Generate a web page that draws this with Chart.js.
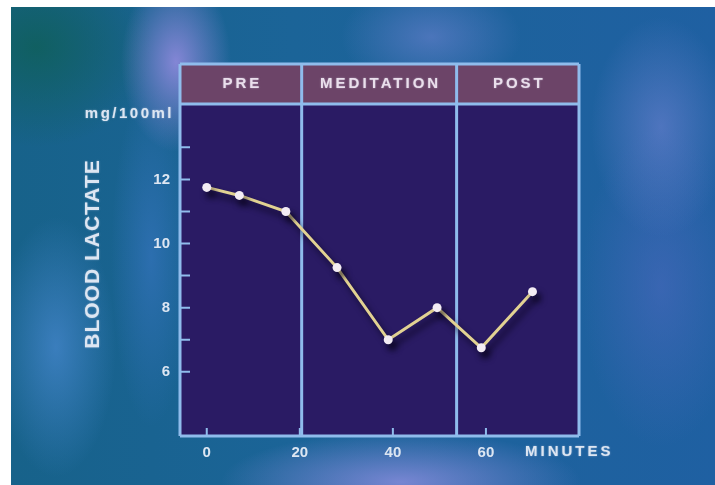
<!DOCTYPE html>
<html>
<head>
<meta charset="utf-8">
<script src="https://cdn.jsdelivr.net/npm/chart.js@4/dist/chart.umd.min.js"></script>
<style>
  html, body { margin: 0; padding: 0; background: #fff; }
  #photo {
    position: absolute; left: 11px; top: 7px; width: 704px; height: 478px;
    background:
      radial-gradient(ellipse 55px 90px at 165px 55px, rgba(150,140,225,0.85), rgba(150,140,225,0) 100%),
      radial-gradient(ellipse 90px 55px at 420px 30px, rgba(95,125,200,0.7), rgba(95,125,200,0) 100%),
      radial-gradient(ellipse 70px 110px at 650px 120px, rgba(110,130,210,0.6), rgba(110,130,210,0) 100%),
      radial-gradient(ellipse 80px 160px at 650px 280px, rgba(75,105,190,0.6), rgba(75,105,190,0) 100%),
      radial-gradient(ellipse 180px 50px at 390px 475px, rgba(135,140,220,0.85), rgba(135,140,220,0) 100%),
      radial-gradient(ellipse 60px 130px at 45px 340px, rgba(70,135,205,0.75), rgba(70,135,205,0) 100%),
      radial-gradient(ellipse 40px 170px at 140px 250px, rgba(60,120,200,0.55), rgba(60,120,200,0) 100%),
      radial-gradient(ellipse 120px 100px at 25px 40px, rgba(15,95,90,0.85), rgba(15,95,90,0) 100%),
      linear-gradient(90deg, #17628a 0%, #1b6498 40%, #1f60a2 100%);
  }
  #c { position: absolute; left: 0; top: 0; }
</style>
</head>
<body>
<div id="photo"></div>
<canvas id="c" width="715" height="485"></canvas>
<script>
// values
const minutes = [0, 7, 17, 28, 39, 49.5, 59, 70];
const lactate = [11.75, 11.5, 11, 9.25, 7, 8, 6.75, 8.5];
const xTickValues = [0, 20, 40, 60];
const yLabelValues = [6, 8, 10, 12];
const yTickMarks = [6, 7, 8, 9, 10, 11, 12, 13];
const phaseNames = ['PRE', 'MEDITATION', 'POST'];
const phaseEdges = [20.4, 53.7];

const frameCol = '#8fbcec';
const textCol = '#dde6f2';
const fontFam = '"Liberation Sans", Arial, sans-serif';

// backgrounds, header, frame and inward ticks
const framePlugin = {
  id: 'frame',
  beforeDatasetsDraw(chart) {
    const {ctx, chartArea: a, scales: {x, y}} = chart;
    const headTop = a.top - 40;
    const edges = [a.left].concat(phaseEdges.map(v => x.getPixelForValue(v)), [a.right]);
    ctx.save();
    ctx.fillStyle = '#2a1b64';
    ctx.fillRect(a.left, a.top, a.right - a.left, a.bottom - a.top);
    ctx.fillStyle = '#6c4468';
    ctx.fillRect(a.left, headTop, a.right - a.left, a.top - headTop);

    ctx.strokeStyle = frameCol;
    ctx.lineWidth = 3;
    ctx.beginPath();
    ctx.moveTo(a.left, headTop); ctx.lineTo(a.right, headTop);
    ctx.moveTo(a.left, a.top); ctx.lineTo(a.right, a.top);
    ctx.moveTo(a.left, a.bottom); ctx.lineTo(a.right, a.bottom);
    edges.forEach(px => {
      ctx.moveTo(px, headTop); ctx.lineTo(px, a.bottom);
    });
    ctx.stroke();

    // inward tick marks
    ctx.lineWidth = 2;
    ctx.beginPath();
    yTickMarks.forEach(v => {
      const py = y.getPixelForValue(v);
      ctx.moveTo(a.left, py); ctx.lineTo(a.left + 10, py);
    });
    xTickValues.forEach(v => {
      const px = x.getPixelForValue(v);
      ctx.moveTo(px, a.bottom); ctx.lineTo(px, a.bottom - 8);
    });
    ctx.stroke();

    // soft glow like the video frame
    ctx.shadowColor = 'rgba(230,230,250,0.5)';
    ctx.shadowBlur = 2;

    // header labels
    ctx.fillStyle = '#eadfec';
    ctx.font = 'bold 15px ' + fontFam;
    ctx.letterSpacing = '3px';
    ctx.textAlign = 'center';
    ctx.textBaseline = 'middle';
    phaseNames.forEach((name, i) => {
      ctx.fillText(name, (edges[i] + edges[i + 1]) / 2 + 1.5, (headTop + a.top) / 2);
    });

    // unit, axis title, x label
    ctx.fillStyle = textCol;
    ctx.font = 'bold 15px ' + fontFam;
    ctx.letterSpacing = '2.5px';
    ctx.textAlign = 'right';
    ctx.fillText('mg/100ml', a.left - 6, a.top + 10);

    ctx.letterSpacing = '3px';
    ctx.textAlign = 'left';
    ctx.fillText('MINUTES', a.right - 54, a.bottom + 16);

    ctx.save();
    ctx.translate(93, 254);
    ctx.rotate(-Math.PI / 2);
    ctx.font = 'bold 21px ' + fontFam;
    ctx.letterSpacing = '1px';
    ctx.textAlign = 'center';
    ctx.fillText('BLOOD LACTATE', 0, 0);
    ctx.restore();
    ctx.restore();
  }
};

const shadowPlugin = {
  id: 'lineShadow',
  beforeDatasetDraw(chart) {
    const ctx = chart.ctx;
    ctx.save();
    ctx.shadowColor = 'rgba(5,0,20,0.75)';
    ctx.shadowBlur = 6;
    ctx.shadowOffsetX = 4;
    ctx.shadowOffsetY = 6;
  },
  afterDatasetDraw(chart) {
    chart.ctx.restore();
  }
};

new Chart(document.getElementById('c'), {
  type: 'line',
  data: {
    datasets: [{
      label: 'Blood lactate',
      data: minutes.map((m, i) => ({x: m, y: lactate[i]})),
      borderColor: '#e2d292',
      borderWidth: 3,
      tension: 0,
      pointRadius: 4.5,
      pointBackgroundColor: '#f3ecf4',
      pointBorderWidth: 0
    }]
  },
  options: {
    responsive: false,
    animation: false,
    layout: { padding: { left: 80, right: 136, top: 104, bottom: 0 } },
    plugins: { legend: { display: false }, tooltip: { enabled: false } },
    scales: {
      x: {
        type: 'linear',
        min: -5.75,
        max: 80,
        afterBuildTicks: s => { s.ticks = xTickValues.map(v => ({value: v})); },
        afterFit: s => { s.height = 49; },
        grid: { display: false, drawTicks: false },
        border: { display: false },
        ticks: { color: textCol, font: { family: fontFam, size: 15, weight: 'bold' }, padding: 8, maxRotation: 0 }
      },
      y: {
        min: 4,
        max: 14.35,
        afterBuildTicks: s => { s.ticks = yLabelValues.map(v => ({value: v})); },
        afterFit: s => { s.width = 100; },
        grid: { display: false, drawTicks: false },
        border: { display: false },
        ticks: { color: textCol, font: { family: fontFam, size: 15, weight: 'bold' }, padding: 10 }
      }
    }
  },
  plugins: [framePlugin, shadowPlugin]
});
</script>
</body>
</html>
